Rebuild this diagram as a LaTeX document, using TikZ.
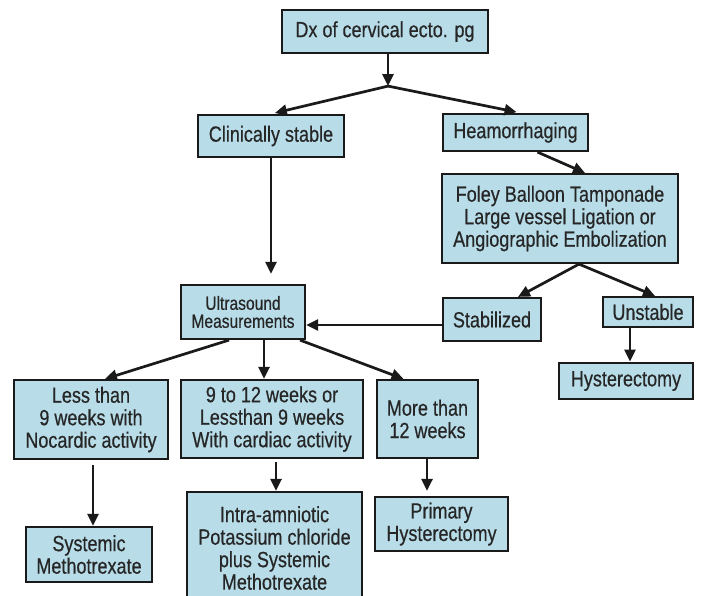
\documentclass[tikz,border=0pt]{standalone}
\usepackage{fontspec}
\setmainfont{Liberation Sans}[FakeStretch=0.82,FakeBold=0.5]
\usetikzlibrary{arrows.meta,calc}
\definecolor{boxfill}{HTML}{B8DDE9}
\definecolor{boxline}{HTML}{1A1A1A}
\definecolor{txt}{HTML}{262626}
\tikzset{
  fbox/.style={draw=boxline, fill=boxfill, line width=2.2pt, inner sep=0pt,
    align=center, text=txt, font=\fontsize{22}{22.5}\selectfont},
  conn/.style={draw=boxline, line width=2.7pt, -{Triangle[length=12pt,width=11pt]}}
}
\begin{document}
\begin{tikzpicture}[x=1pt,y=-1pt]
\useasboundingbox[fill=white] (0,0) rectangle (701,595);
\begin{scope}
\clip (0,0) rectangle (701,595);
% nodes
\node[fbox, minimum width=206pt, minimum height=43pt] (dx) at (385,31.5) {Dx of cervical ecto. pg};
\node[fbox, minimum width=146pt, minimum height=42pt] (cs) at (271,136) {Clinically stable};
\node[fbox, minimum width=145pt, minimum height=37pt] (hem) at (515.5,132.5) {Heamorrhaging};
\node[fbox, minimum width=236pt, minimum height=89pt] (foley) at (560,218.5) {Foley Balloon Tamponade\\Large vessel Ligation or\\Angiographic Embolization};
\node[fbox, minimum width=124pt, minimum height=54pt, font=\fontsize{19}{18}\selectfont] (us) at (243,312) {Ultrasound\\Measurements};
\node[fbox, minimum width=98pt, minimum height=43pt] (stab) at (492,319.5) {Stabilized};
\node[fbox, minimum width=90pt, minimum height=30pt] (unst) at (648,312) {Unstable};
\node[fbox, minimum width=134pt, minimum height=36pt, line width=2.8pt] (hyst) at (626,381) {Hysterectomy};
\node[fbox, minimum width=154pt, minimum height=79pt] (less) at (91,419.5) {Less than\\9 weeks with\\Nocardic activity};
\node[fbox, minimum width=182pt, minimum height=78pt] (nine) at (272,419) {9 to 12 weeks or\\Lessthan 9 weeks\\With cardiac activity};
\node[fbox, minimum width=101pt, minimum height=78pt] (more) at (427.5,419) {More than\\12 weeks};
\node[fbox, minimum width=126pt, minimum height=55pt] (sys) at (89,554.5) {Systemic\\Methotrexate};
\node[fbox, minimum width=175pt, minimum height=112pt] (intra) at (274.5,548) {Intra-amniotic\\Potassium chloride\\plus Systemic\\Methotrexate};
\node[fbox, minimum width=133pt, minimum height=54pt] (prim) at (441.5,524) {Primary\\Hysterectomy};
\end{scope}
% connectors
\coordinate (sp1) at ($(dx.south)+(3,32)$);
\coordinate (sp2) at ($(foley.south)+(19,0)$);
\coordinate (stw) at ($(stab.west)+(0,5.5)$);
\draw[conn] ([xshift=3pt]dx.south) -- (sp1);
\draw[conn, shorten >=4pt] (sp1) -- (cs.north);
\draw[conn, shorten >=4pt] (sp1) -- ([xshift=5pt]hem.north);
\draw[conn] ([xshift=22pt]hem.south) -- ([xshift=25pt]foley.north);
\draw[conn, shorten >=10pt] (cs.south) -- (cs.south |- us.north);
\draw[conn] (sp2) -- ([xshift=26pt]stab.north);
\draw[conn] (sp2) -- ([xshift=7pt]unst.north);
\draw[conn] (stw) -- (us.east |- stw);
\draw[conn] ([xshift=-18pt]unst.south) -- ([xshift=-18pt]unst.south |- hyst.north);
\draw[conn] ([xshift=-14pt]us.south) -- ([xshift=14pt]less.north);
\draw[conn] ([xshift=21pt]us.south) -- ([xshift=21pt]us.south |- nine.north);
\draw[conn] ([xshift=57pt]us.south) -- ([xshift=-24pt]more.north);
\draw[conn, shorten <=5pt] ([xshift=2pt]less.south) -- ([xshift=2pt]less.south |- sys.north);
\draw[conn, shorten <=3pt] ([xshift=4pt]nine.south) -- ([xshift=4pt]nine.south |- intra.north);
\draw[conn, shorten >=5pt] ([xshift=-0.5pt]more.south) -- ([xshift=-0.5pt]more.south |- prim.north);
\end{tikzpicture}
\end{document}
